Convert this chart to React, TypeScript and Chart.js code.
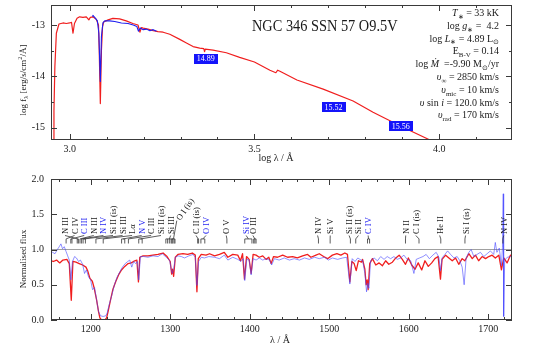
import React, { useEffect, useRef } from 'react';
import { Chart, registerables } from 'chart.js';

Chart.register(...registerables);

const FONT = '"Liberation Serif", "Times New Roman", serif';
const RED = 'rgb(240,30,30)';
const BLUE = 'rgb(30,30,240)';
const BLUE_T = 'rgba(70,70,255,0.6)';
const INK = '#1a1a1a';
const FRAME = '#3a3a3a';

// ---------------- Top panel: SED ----------------
const sedModelLogLam = [
  2.952, 2.955, 2.9575, 2.96, 2.964, 2.971, 2.982, 2.991, 3.0, 3.005,
  3.009, 3.013, 3.02, 3.027, 3.036, 3.045, 3.052, 3.056, 3.063, 3.072,
  3.078, 3.08, 3.083, 3.086, 3.089, 3.092, 3.104, 3.117, 3.135, 3.153,
  3.171, 3.185, 3.19, 3.194, 3.199, 3.212, 3.226, 3.239, 3.253, 3.271,
  3.298, 3.316, 3.334, 3.352, 3.363, 3.365, 3.367, 3.388, 3.424, 3.46,
  3.5, 3.542, 3.558, 3.563, 3.569, 3.615, 3.686, 3.767, 3.821, 3.86,
  3.902, 3.975, 3.99,
];
const sedModelLogF = [
  -15.6, -15.24, -14.66, -13.81, -13.16, -12.98, -12.96, -12.97, -12.96, -12.95,
  -13.16, -12.97, -12.87, -12.84, -12.85, -12.84, -12.9, -12.85, -12.84, -12.89,
  -13.0, -13.49, -14.53, -13.49, -13.03, -12.94, -12.9, -12.87, -12.88, -12.92,
  -12.97, -13.0, -13.14, -13.05, -13.06, -13.08, -13.11, -13.13, -13.14, -13.18,
  -13.28, -13.35, -13.42, -13.45, -13.46, -13.52, -13.47, -13.49, -13.54, -13.63,
  -13.72, -13.88, -13.93, -13.88, -13.9, -14.07, -14.25, -14.48, -14.7, -14.84,
  -14.99, -15.24, -15.3,
];
const uvObsLogLam = [
  3.061, 3.063, 3.07, 3.075, 3.079, 3.083, 3.086, 3.09, 3.095, 3.108,
  3.122, 3.14, 3.158, 3.172, 3.182, 3.186, 3.191, 3.199, 3.208, 3.217,
  3.226, 3.235,
];
const uvObsLogF = [
  -12.83, -12.81, -12.87, -12.92, -13.16, -14.1, -13.22, -12.96, -12.92, -12.92,
  -12.93, -12.96, -12.97, -13.0, -13.03, -13.12, -13.06, -13.09, -13.08, -13.11,
  -13.09, -13.12,
];
const photLogLam = [3.368, 3.714, 3.896];
const photLogF = [-13.66, -14.6, -14.97];
const photMag = [14.89, 15.52, 15.56];

const topXTicks = [3.0, 3.5, 4.0];
const topXMinor = [3.1, 3.2, 3.3, 3.4, 3.6, 3.7, 3.8, 3.9, 4.1];
const topYTicks = [-15, -14, -13];
const topYMinor = [-14.5, -13.5];

const starName = 'NGC 346 SSN 57 O9.5V';

type Seg = { t: string; it?: boolean; sub?: boolean; sup?: boolean };

const stellarParams: Seg[][] = [
  [{ t: 'T', it: true }, { t: '∗', sub: true }, { t: ' = 33 kK' }],
  [{ t: 'log ' }, { t: 'g', it: true }, { t: '∗', sub: true }, { t: ' =  4.2' }],
  [{ t: 'log ' }, { t: 'L', it: true }, { t: '∗', sub: true }, { t: ' = 4.89 L' }, { t: '⊙', sub: true }],
  [{ t: 'E' }, { t: 'B-V', sub: true }, { t: ' = 0.14' }],
  [{ t: 'log ' }, { t: 'Ṁ', it: true }, { t: '  =-9.90 M' }, { t: '⊙', sub: true }, { t: '/yr' }],
  [{ t: 'υ', it: true }, { t: '∞', sub: true }, { t: ' = 2850 km/s' }],
  [{ t: 'υ', it: true }, { t: 'mic', sub: true }, { t: ' = 10 km/s' }],
  [{ t: 'υ', it: true }, { t: ' sin ' }, { t: 'i', it: true }, { t: ' = 120.0 km/s' }],
  [{ t: 'υ', it: true }, { t: 'rad', sub: true }, { t: ' = 170 km/s' }],
];

// ---------------- Bottom panel: normalised UV spectrum ----------------
const specModelWave = [
  1150, 1153, 1157, 1161, 1165, 1170, 1173, 1175.5, 1177.6, 1181.4,
  1185.5, 1189.8, 1194, 1196.4, 1199, 1202, 1204.4, 1207.3, 1209.8, 1211.5,
  1213.5, 1217.8, 1220, 1222, 1225, 1228, 1231.6, 1235, 1238.7, 1242.8,
  1247, 1251, 1255.4, 1258, 1260, 1261.7, 1265.8, 1272, 1278, 1284.6,
  1291, 1296, 1300, 1301.8, 1303, 1304.3, 1306.4, 1309.7, 1316, 1322,
  1327.8, 1331.5, 1333.6, 1335.3, 1339, 1345, 1349.5, 1355.8, 1362, 1368,
  1372.5, 1378.7, 1385, 1388.4, 1391, 1393.4, 1396, 1399.3, 1401.8, 1404.3,
  1408, 1412, 1416.4, 1420.6, 1424, 1427, 1430, 1435, 1441.5, 1447.7,
  1454, 1460, 1466.6, 1472.8, 1477, 1483.4, 1487.5, 1493, 1498, 1504,
  1509.7, 1514.7, 1519.7, 1523, 1526, 1528.5, 1531.4, 1534, 1536.8, 1540.6,
  1542, 1544.9, 1546.5, 1547.8, 1549, 1551, 1554.4, 1558.6, 1562.8, 1567,
  1571, 1575, 1579.5, 1583.8, 1588, 1592, 1596, 1599.6, 1603.8, 1608,
  1612, 1616.4, 1620.5, 1624.7, 1629, 1633, 1637, 1640, 1642, 1646.5,
  1650.6, 1654.8, 1659, 1663, 1667.3, 1670.7, 1675.7, 1680, 1684, 1688,
  1692.4, 1696.7, 1700.8, 1705, 1709, 1713.4, 1716.7, 1719.6, 1723.8, 1728,
  1730,
];
const specModelFlux = [
  0.84, 0.83, 0.85, 0.81, 0.85, 0.86, 0.8, 0.28, 0.83, 0.82,
  0.8, 0.78, 0.75, 0.69, 0.59, 0.55, 0.45, 0.29, 0.12, 0.03,
  0.0, 0.0, 0.03, 0.13, 0.29, 0.44, 0.55, 0.64, 0.71, 0.76,
  0.8, 0.81, 0.84, 0.85, 0.54, 0.89, 0.91, 0.91, 0.92, 0.93,
  0.95, 0.9, 0.83, 0.65, 0.72, 0.62, 0.89, 0.93, 0.94, 0.93,
  0.95, 0.92, 0.4, 0.87, 0.93, 0.92, 0.94, 0.91, 0.93, 0.96,
  0.89, 0.93, 0.92, 0.84, 0.94, 0.58, 0.9, 0.86, 0.66, 0.93,
  0.92, 0.89, 0.91, 0.86, 0.89, 0.8, 0.9, 0.89, 0.92, 0.89,
  0.9, 0.88, 0.91, 0.93, 0.89, 0.92, 0.94, 0.9, 0.87, 0.92,
  0.94, 0.92, 0.95, 0.93, 0.54, 0.83, 0.8, 0.7, 0.84, 0.82,
  0.86, 0.72, 0.5, 0.57, 0.43, 0.8, 0.87, 0.78, 0.81, 0.77,
  0.84, 0.79, 0.82, 0.88, 0.92, 0.86, 0.79, 0.88, 0.78, 0.72,
  0.81, 0.71, 0.84, 0.76, 0.81, 0.87, 0.9, 0.58, 0.86, 0.92,
  0.88, 0.84, 0.88, 0.79, 0.87, 0.84, 0.94, 0.87, 0.92, 0.84,
  0.9, 0.87, 0.9, 0.92, 0.88, 0.92, 0.71, 0.88, 0.81, 0.92,
  0.91,
];
const specObsWave = [
  1150, 1152, 1155, 1158, 1160.4, 1162.5, 1164.5, 1166.7, 1169, 1171,
  1173, 1175, 1177, 1179.7, 1182, 1184.7, 1187, 1189.8, 1192.2, 1194.5,
  1197.3, 1199.8, 1202.3, 1204.8, 1207.3, 1209.8, 1212.3, 1215.6, 1219, 1220.7,
  1223, 1226.5, 1229.8, 1233.2, 1236.5, 1239.9, 1243.3, 1246.6, 1249, 1251.6,
  1254, 1256.7, 1258.8, 1260.4, 1262.5, 1266.7, 1272, 1278.4, 1284.6, 1290,
  1295, 1299.4, 1301.4, 1302.7, 1304.3, 1306.4, 1309.7, 1314, 1318, 1323.5,
  1328.6, 1331.5, 1333.6, 1335.7, 1339, 1343, 1348.6, 1355.8, 1362, 1368,
  1372.5, 1378.7, 1385, 1389, 1392, 1393.8, 1396.3, 1399.3, 1401.8, 1404.3,
  1408, 1412, 1416.4, 1420.6, 1425, 1427.6, 1431, 1437, 1443.5, 1450,
  1456, 1462.6, 1469, 1475, 1481.6, 1487.5, 1494, 1499, 1504, 1510.6,
  1517, 1522, 1526, 1529, 1532.5, 1536, 1540, 1542, 1544.9, 1547,
  1548.5, 1550, 1552, 1556.5, 1560.7, 1564.8, 1569, 1573, 1577.3, 1581.5,
  1585.6, 1589.8, 1594, 1598, 1602.5, 1606.6, 1609.5, 1613.7, 1618, 1622,
  1626, 1630.4, 1634.6, 1638, 1640, 1642, 1645.6, 1649, 1652.7, 1657,
  1661, 1664.4, 1667.3, 1669.8, 1672.3, 1675.7, 1678.6, 1682, 1686, 1690.3,
  1694.5, 1698.7, 1702.8, 1707, 1709, 1711, 1714, 1716.7, 1718, 1719,
  1719.5, 1720.8, 1724, 1728, 1730,
];
const specObsFlux = [
  0.94, 0.96, 0.94, 1.0, 1.04, 1.08, 1.01, 1.04, 0.97, 0.91,
  0.85, 0.57, 0.83, 0.9, 0.88, 0.83, 0.85, 0.79, 0.66, 0.71,
  0.61, 0.57, 0.43, 0.46, 0.29, 0.12, 0.06, 0.05, 0.06, 0.1,
  0.21, 0.35, 0.5, 0.61, 0.68, 0.75, 0.8, 0.83, 0.85, 0.75,
  0.83, 0.8, 0.83, 0.57, 0.9, 0.9, 0.89, 0.91, 0.9, 0.94,
  0.89, 0.84, 0.71, 0.66, 0.72, 0.89, 0.91, 0.9, 0.88, 0.91,
  0.93, 0.89, 0.49, 0.83, 0.89, 0.88, 0.9, 0.89, 0.87, 0.92,
  0.85, 0.89, 0.86, 0.83, 0.87, 0.56, 0.86, 0.85, 0.64, 0.87,
  0.85, 0.88, 0.85, 0.87, 0.85, 0.78, 0.87, 0.85, 0.88, 0.85,
  0.87, 0.85, 0.88, 0.86, 0.89, 0.87, 0.89, 0.85, 0.88, 0.86,
  0.88, 0.89, 0.51, 0.87, 0.83, 0.88, 0.85, 0.85, 0.66, 0.4,
  0.52, 0.45, 0.84, 0.88, 0.84, 0.9, 0.86, 0.9, 0.87, 0.9,
  0.86, 0.88, 0.92, 0.86, 0.84, 0.66, 0.86, 0.88, 0.9, 0.93,
  0.87, 0.92, 0.96, 0.89, 0.7, 0.88, 0.93, 0.98, 0.93, 0.88,
  0.9, 0.84, 0.75, 0.5, 0.88, 0.96, 1.0, 0.9, 0.93, 0.96,
  0.9, 0.94, 0.98, 0.93, 1.1, 0.96, 1.02, 0.77, 1.03, 1.79,
  0.05, 0.85, 0.89, 0.9, 0.9,
];
const continuumWave = [1150, 1730];
const continuumFlux = [1.0, 1.0];

const botXTicks = [1200, 1300, 1400, 1500, 1600, 1700];
const botYTicks = [0, 0.5, 1.0, 1.5, 2.0];

const lineNames = [
  'N III', 'C IV', 'C III', 'N III', 'N IV', 'Si II (is)', 'Si III', 'Lα', 'N V', 'C III',
  'Si II (is)', 'Si III', 'O I (is)', 'C II (is)', 'O IV', 'O V', 'Si IV', 'O III', 'N IV', 'Si V',
  'Si II (is)', 'Si II', 'C IV', 'N II', 'C I (is)', 'He II', 'Si I (is)', 'N IV',
];
const lineLabelAt = [
  1167.6, 1179.6, 1191.8, 1203.8, 1215.9, 1228, 1240, 1252, 1264, 1276,
  1288.4, 1300.6, 1309.5, 1332.5, 1345, 1370.5, 1395.5, 1404, 1485.4, 1501.3,
  1525, 1536.8, 1549, 1596.3, 1609, 1639, 1671.6, 1719.6,
];
const lineRest: number[][] = [
  [1183.0, 1184.5], [1169.0], [1174.9, 1176.4], [1186.5], [1188.5], [1190.4, 1193.3], [1206.5], [1215.7], [1238.8, 1242.8], [1247.4],
  [1260.4, 1264.7], [1294.5, 1296.7, 1298.9, 1301.1, 1303.3], [1302.2, 1304.9, 1306.0], [1334.5, 1335.7], [1338.6, 1343.5], [1371.3], [1393.8, 1402.8], [1405.0, 1406.5, 1408.0], [1486.5], [1501.2],
  [1526.7], [1533.4], [1548.2, 1550.8], [1596.0], [1613.0], [1640.4], [1670.8], [1718.5],
];
const lineBlue = [2, 4, 8, 14, 16, 22];
const tiltedLabel = 12;

// ---------------- helpers ----------------
function segFont(s: Seg, size: number) {
  const sz = s.sub || s.sup ? size * 0.7 : size;
  return `${s.it ? 'italic ' : ''}${sz}px ${FONT}`;
}
function drawRich(ctx: CanvasRenderingContext2D, segs: Seg[], x: number, y: number, size: number, align: 'left' | 'right' | 'center') {
  const widths = segs.map((s) => {
    ctx.font = segFont(s, size);
    return ctx.measureText(s.t).width;
  });
  const total = widths.reduce((a, b) => a + b, 0);
  let cx = align === 'right' ? x - total : align === 'center' ? x - total / 2 : x;
  ctx.textAlign = 'left';
  ctx.textBaseline = 'alphabetic';
  segs.forEach((s, i) => {
    ctx.font = segFont(s, size);
    const dy = s.sub ? size * 0.28 : s.sup ? -size * 0.4 : 0;
    ctx.fillText(s.t, cx, y + dy);
    cx += widths[i];
  });
}

function drawFrameAndTicks(chart: any, xMaj: number[], xMin: number[], yMaj: number[], yMin: number[]) {
  const { ctx, chartArea: a } = chart;
  const xs = chart.scales.x;
  const ys = chart.scales.y;
  ctx.save();
  ctx.strokeStyle = FRAME;
  ctx.lineWidth = 1;
  ctx.beginPath();
  const vt = (v: number, len: number) => {
    const p = Math.round(xs.getPixelForValue(v)) + 0.5;
    ctx.moveTo(p, a.bottom);
    ctx.lineTo(p, a.bottom - len);
    ctx.moveTo(p, a.top);
    ctx.lineTo(p, a.top + len);
  };
  const ht = (v: number, len: number) => {
    const p = Math.round(ys.getPixelForValue(v)) + 0.5;
    ctx.moveTo(a.left, p);
    ctx.lineTo(a.left + len, p);
    ctx.moveTo(a.right, p);
    ctx.lineTo(a.right - len, p);
  };
  xMaj.forEach((v) => vt(v, 6));
  xMin.forEach((v) => vt(v, 3));
  yMaj.forEach((v) => ht(v, 6));
  yMin.forEach((v) => ht(v, 3));
  ctx.stroke();
  ctx.strokeRect(a.left + 0.5, a.top + 0.5, a.right - a.left - 1, a.bottom - a.top - 1);
  ctx.restore();
}

const fixedX = (h: number) => (s: any) => {
  s.height = h;
  s.paddingLeft = 0;
  s.paddingRight = 0;
  s.paddingTop = 0;
  s.paddingBottom = 0;
};
const fixedY = (w: number) => (s: any) => {
  s.width = w;
  s.paddingLeft = 0;
  s.paddingRight = 0;
  s.paddingTop = 0;
  s.paddingBottom = 0;
};

const topPlugin = {
  id: 'topDecor',
  afterDraw(chart: any) {
    const { ctx } = chart;
    const xs = chart.scales.x;
    const ys = chart.scales.y;
    drawFrameAndTicks(chart, topXTicks, topXMinor, topYTicks, topYMinor);
    ctx.save();
    // photometry boxes
    photLogLam.forEach((lx, i) => {
      const px = xs.getPixelForValue(lx);
      const py = ys.getPixelForValue(photLogF[i]);
      ctx.fillStyle = 'rgb(20,20,250)';
      ctx.fillRect(Math.round(px - 12), Math.round(py - 5), 24, 10);
      ctx.fillStyle = '#fff';
      ctx.font = `8px ${FONT}`;
      ctx.textAlign = 'center';
      ctx.textBaseline = 'middle';
      ctx.fillText(photMag[i].toFixed(2), px, py + 0.5);
    });
    // star name
    ctx.fillStyle = INK;
    ctx.save();
    ctx.translate(252, 31);
    ctx.scale(0.82, 1);
    ctx.font = `17.5px ${FONT}`;
    ctx.textAlign = 'left';
    ctx.textBaseline = 'alphabetic';
    ctx.fillText(starName, 0, 0);
    ctx.restore();
    // parameter block
    stellarParams.forEach((segs, i) => {
      drawRich(ctx, segs, 499, 16 + i * 12.8, 10, 'right');
    });
    // axis titles
    drawRich(ctx, [{ t: 'log λ / Å' }], 276, 161, 10, 'center');
    ctx.save();
    ctx.translate(22, 80);
    ctx.rotate(-Math.PI / 2);
    drawRich(
      ctx,
      [{ t: 'log f' }, { t: 'λ', sub: true }, { t: ' [erg/s/cm' }, { t: '2', sup: true }, { t: '/Å]' }],
      0,
      3.5,
      9,
      'center'
    );
    ctx.restore();
    ctx.restore();
  },
};

const botPlugin = {
  id: 'botDecor',
  afterDraw(chart: any) {
    const { ctx } = chart;
    const xs = chart.scales.x;
    const ys = chart.scales.y;
    const minor: number[] = [];
    for (let v = 1160; v <= 1720; v += 20) if (v % 100 !== 0) minor.push(v);
    drawFrameAndTicks(chart, botXTicks, minor, botYTicks, []);
    ctx.save();
    ctx.fillStyle = INK;
    drawRich(ctx, [{ t: 'λ / Å' }], 280, 173, 10, 'center');
    ctx.save();
    ctx.translate(22, 89);
    ctx.rotate(-Math.PI / 2);
    drawRich(ctx, [{ t: 'Normalised flux' }], 0, 3.5, 9, 'center');
    ctx.restore();

    // line identifications
    const yBase = ys.getPixelForValue(1.22);
    const yTop = ys.getPixelForValue(1.15);
    const yBot = ys.getPixelForValue(1.085);
    ctx.strokeStyle = '#333';
    ctx.lineWidth = 0.8;
    lineNames.forEach((name, i) => {
      const lx = xs.getPixelForValue(lineLabelAt[i]);
      const marks = lineRest[i].map((w) => xs.getPixelForValue(w));
      const mMin = Math.min(...marks);
      const mMax = Math.max(...marks);
      const mc = (mMin + mMax) / 2;
      const tilted = i === tiltedLabel;
      const ly = tilted ? ys.getPixelForValue(1.43) : yBase;
      ctx.beginPath();
      ctx.moveTo(tilted ? lx - 1 : lx, ly + 1.5);
      ctx.lineTo(mc, yTop);
      if (marks.length > 1) {
        ctx.moveTo(mMin, yTop);
        ctx.lineTo(mMax, yTop);
      }
      marks.forEach((m) => {
        ctx.moveTo(m, yTop);
        ctx.lineTo(m, yBot);
      });
      ctx.stroke();
      ctx.save();
      ctx.translate(lx, ly);
      ctx.rotate(tilted ? (-55 * Math.PI) / 180 : -Math.PI / 2);
      ctx.fillStyle = lineBlue.includes(i) ? BLUE : INK;
      ctx.font = `8.5px ${FONT}`;
      ctx.textAlign = 'left';
      ctx.textBaseline = 'alphabetic';
      ctx.fillText(name, 0, 3);
      ctx.restore();
    });
    ctx.restore();
  },
};

const tickFont = { family: FONT, size: 10 };
const noGrid = { display: false, drawTicks: false, tickLength: 0 };

function topConfig(): any {
  return {
    type: 'scatter',
    data: {
      datasets: [
        {
          data: uvObsLogLam.map((x, i) => ({ x, y: uvObsLogF[i] })),
          showLine: true,
          borderColor: BLUE,
          borderWidth: 1.1,
          pointRadius: 0,
          borderJoinStyle: 'round',
        },
        {
          data: sedModelLogLam.map((x, i) => ({ x, y: sedModelLogF[i] })),
          showLine: true,
          borderColor: RED,
          borderWidth: 1.2,
          pointRadius: 0,
          borderJoinStyle: 'round',
        },
      ],
    },
    options: {
      animation: false,
      responsive: false,
      events: [],
      layout: { padding: { left: 0, right: 26, top: 5, bottom: 0 } },
      plugins: { legend: { display: false }, tooltip: { enabled: false } },
      scales: {
        x: {
          type: 'linear',
          min: 2.9495,
          max: 4.197,
          afterBuildTicks: (s: any) => {
            s.ticks = topXTicks.map((v) => ({ value: v }));
          },
          afterFit: fixedX(30),
          grid: noGrid,
          border: { display: false },
          ticks: { color: INK, font: tickFont, padding: 3, maxRotation: 0, autoSkip: false, callback: (v: any) => Number(v).toFixed(1) },
        },
        y: {
          type: 'linear',
          min: -15.24,
          max: -12.61,
          afterBuildTicks: (s: any) => {
            s.ticks = topYTicks.map((v) => ({ value: v }));
          },
          afterFit: fixedY(51),
          grid: noGrid,
          border: { display: false },
          ticks: { color: INK, font: tickFont, padding: 6, autoSkip: false, callback: (v: any) => String(v) },
        },
      },
    },
    plugins: [topPlugin],
  };
}

function botConfig(): any {
  return {
    type: 'scatter',
    data: {
      datasets: [
        {
          data: specObsWave.map((x, i) => ({ x, y: specObsFlux[i] })),
          showLine: true,
          borderColor: BLUE_T,
          borderWidth: 1,
          pointRadius: 0,
          borderJoinStyle: 'round',
        },
        {
          data: specModelWave.map((x, i) => ({ x, y: specModelFlux[i] })),
          showLine: true,
          borderColor: RED,
          borderWidth: 1.3,
          pointRadius: 0,
          borderJoinStyle: 'round',
        },
        {
          data: continuumWave.map((x, i) => ({ x, y: continuumFlux[i] })),
          showLine: true,
          borderColor: '#a0a0a0',
          borderWidth: 1,
          pointRadius: 0,
        },
      ],
    },
    options: {
      animation: false,
      responsive: false,
      events: [],
      layout: { padding: { left: 0, right: 26, top: 9, bottom: 0 } },
      plugins: { legend: { display: false }, tooltip: { enabled: false } },
      scales: {
        x: {
          type: 'linear',
          min: 1150,
          max: 1730,
          afterBuildTicks: (s: any) => {
            s.ticks = botXTicks.map((v) => ({ value: v }));
          },
          afterFit: fixedX(31),
          grid: noGrid,
          border: { display: false },
          ticks: { color: INK, font: tickFont, padding: 3, maxRotation: 0, autoSkip: false, callback: (v: any) => String(v) },
        },
        y: {
          type: 'linear',
          min: 0,
          max: 2,
          afterBuildTicks: (s: any) => {
            s.ticks = botYTicks.map((v) => ({ value: v }));
          },
          afterFit: fixedY(51),
          grid: noGrid,
          border: { display: false },
          ticks: { color: INK, font: tickFont, padding: 7, autoSkip: false, callback: (v: any) => Number(v).toFixed(1) },
        },
      },
    },
    plugins: [botPlugin],
  };
}

export default function App() {
  const topRef = useRef<HTMLCanvasElement>(null);
  const botRef = useRef<HTMLCanvasElement>(null);
  useEffect(() => {
    const c1 = new Chart(topRef.current as HTMLCanvasElement, topConfig());
    const c2 = new Chart(botRef.current as HTMLCanvasElement, botConfig());
    return () => {
      c1.destroy();
      c2.destroy();
    };
  }, []);
  return (
    <div style={{ position: 'fixed', left: 0, top: 0, width: 538, height: 351, background: '#fff' }}>
      <canvas ref={topRef} width={538} height={170} style={{ position: 'absolute', left: 0, top: 0, width: 538, height: 170 }} />
      <canvas ref={botRef} width={538} height={181} style={{ position: 'absolute', left: 0, top: 170, width: 538, height: 181 }} />
    </div>
  );
}
